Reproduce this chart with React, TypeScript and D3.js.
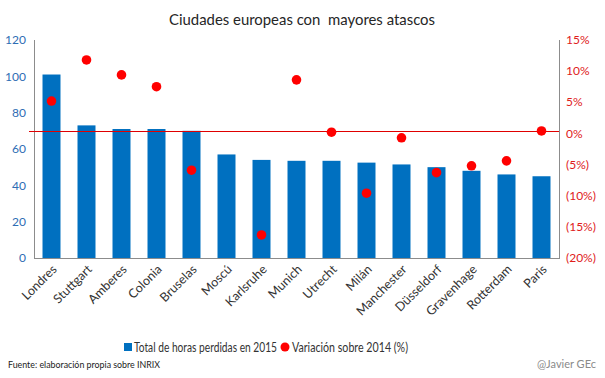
import React from "react";
import * as d3 from "d3";

const cities = ["Londres","Stuttgart","Amberes","Colonia","Bruselas","Moscú","Karlsruhe","Munich","Utrecht","Milán","Manchester","Düsseldorf","Gravenhage","Rotterdam","Paris"];
const hours = [101, 73, 71, 71, 70, 57, 54, 53.5, 53.5, 52.5, 51.5, 50, 48, 46, 45];
const variation = [5.2, 11.8, 9.4, 7.5, -5.9, null, -16.3, 8.6, 0.2, -9.6, -0.7, -6.3, -5.2, -4.4, 0.4];
const leftTicks = [0, 20, 40, 60, 80, 100, 120];
const rightTicks = [15, 10, 5, 0, -5, -10, -15, -20];
const title = "Ciudades europeas con  mayores atascos";
const legendBars = "Total de horas perdidas en 2015";
const legendDots = "Variación sobre 2014 (%)";
const source = "Fuente: elaboración propia sobre INRIX";
const credit = "@Javier GEc";

const W = 605, H = 378;
const M = { left: 34, right: 559, top: 40, bottom: 258 };
const FONT = "Lato, 'Open Sans', sans-serif";

const fmtPct = (v: number) => (v < 0 ? `(${-v}%)` : `${v}%`);

export default function App() {
  const x = d3.scaleBand<string>().domain(cities).range([M.left, M.right]).paddingInner(0.486).paddingOuter(0.243);
  const yL = d3.scaleLinear().domain([0, 120]).range([M.bottom, M.top]);
  const yR = d3.scaleLinear().domain([-20, 15]).range([M.bottom, M.top]);
  const bw = x.bandwidth();
  const zeroY = Math.round(yR(0) - 2) + 0.5;
  return (
    <svg width={W} height={H} style={{ position: "absolute", left: 0, top: 0, background: "#fff" }} fontFamily={FONT}>
      <rect width={W} height={H} fill="#fff" />
      <text x={302} y={25} textAnchor="middle" fontSize={15} fill="#262626" textLength={266} lengthAdjust="spacingAndGlyphs" style={{ whiteSpace: "pre" }}>{title}</text>
      {cities.map((c, i) => (
        <rect key={c} x={x(c)} y={yL(hours[i])} width={bw} height={yL(0) - yL(hours[i])} fill="#0070C0" />
      ))}
      <line x1={M.left + 0.5} x2={M.left + 0.5} y1={M.top} y2={M.bottom} stroke="#8c8c8c" strokeWidth={1} />
      <line x1={M.right + 0.5} x2={M.right + 0.5} y1={M.top} y2={M.bottom} stroke="#8c8c8c" strokeWidth={1} />
      <line x1={M.left} x2={M.right + 1} y1={M.bottom + 0.5} y2={M.bottom + 0.5} stroke="#8c8c8c" strokeWidth={1} />
      <line x1={M.left - 5} x2={M.right} y1={zeroY} y2={zeroY} stroke="#e00000" strokeWidth={1.2} />
      {cities.map((c, i) => variation[i] === null ? null : (
        <circle key={c} cx={(x(c) as number) + bw / 2} cy={yR(variation[i] as number)} r={4.8} fill="#ff0000" />
      ))}
      {leftTicks.map(t => (
        <text key={t} x={26} y={yL(t)} dy="0.35em" textAnchor="end" fontSize={12} fill="#2e6db4">{t}</text>
      ))}
      {rightTicks.map(t => (
        <text key={t} x={566} y={yR(t)} dy="0.35em" textAnchor="start" fontSize={12} fill="#e0201b">{fmtPct(t)}</text>
      ))}
      {cities.map(c => {
        const cx = (x(c) as number) + bw / 2 + 3;
        const cy = M.bottom + 9;
        return (
          <text key={c} x={cx} y={cy} textAnchor="end" dy="0.35em" fontSize={12.5} fill="#333" transform={`rotate(-45 ${cx} ${cy})`}>{c}</text>
        );
      })}
      <rect x={124} y={343} width={8} height={8} fill="#0070C0" />
      <text x={134} y={351.5} fontSize={12.5} fill="#333" textLength={143} lengthAdjust="spacingAndGlyphs">{legendBars}</text>
      <circle cx={285} cy={347} r={4.5} fill="#ff0000" />
      <text x={292} y={351.5} fontSize={12.5} fill="#333" textLength={116} lengthAdjust="spacingAndGlyphs">{legendDots}</text>
      <text x={8} y={368} fontSize={10} fill="#222" textLength={152} lengthAdjust="spacingAndGlyphs">{source}</text>
      <text x={596} y={368} textAnchor="end" fontSize={11} fill="#8a8a8a">{credit}</text>
    </svg>
  );
}
